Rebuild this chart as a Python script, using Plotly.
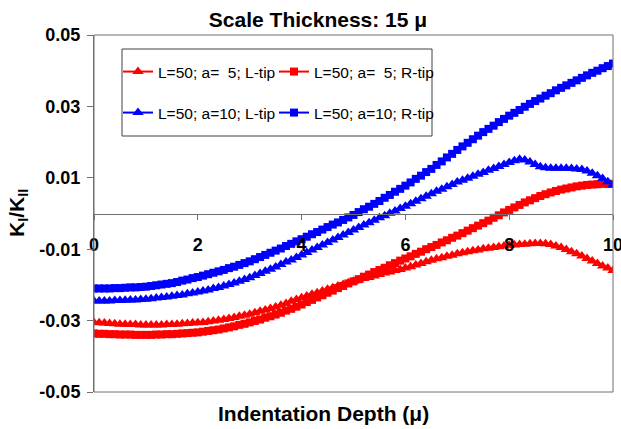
import plotly.graph_objects as go

# Indentation depth grid (micron)
depth = [round(i * 0.1, 1) for i in range(101)]

# L=50; a=5; L-tip  (red triangles)
l50_a5_ltip = [
    -0.0305, -0.0306, -0.0307, -0.0308, -0.0309, -0.0310, -0.0310, -0.0311, -0.0311, -0.0312,
    -0.0312, -0.0312, -0.0312, -0.0312, -0.0311, -0.0311, -0.0310, -0.0309, -0.0308, -0.0307,
    -0.0306, -0.0305, -0.0303, -0.0301, -0.0299, -0.0297, -0.0294, -0.0291, -0.0288, -0.0285,
    -0.0282, -0.0278, -0.0274, -0.0270, -0.0266, -0.0262, -0.0257, -0.0252, -0.0246, -0.0241,
    -0.0236, -0.0231, -0.0226, -0.0222, -0.0217, -0.0212, -0.0208, -0.0203, -0.0199, -0.0194,
    -0.0190, -0.0186, -0.0182, -0.0179, -0.0175, -0.0171, -0.0167, -0.0164, -0.0160, -0.0157,
    -0.0153, -0.0149, -0.0144, -0.0140, -0.0135, -0.0131, -0.0127, -0.0124, -0.0120, -0.0117,
    -0.0113, -0.0110, -0.0107, -0.0104, -0.0102, -0.0099, -0.0097, -0.0095, -0.0093, -0.0091,
    -0.0089, -0.0088, -0.0087, -0.0086, -0.0085, -0.0084, -0.0084, -0.0085, -0.0087, -0.0091,
    -0.0095, -0.0101, -0.0107, -0.0113, -0.0119, -0.0126, -0.0133, -0.0140, -0.0147, -0.0153,
    -0.0160,
]

# L=50; a=5; R-tip  (red squares)
l50_a5_rtip = [
    -0.0336, -0.0337, -0.0337, -0.0338, -0.0338, -0.0339, -0.0339, -0.0339, -0.0340, -0.0340,
    -0.0340, -0.0340, -0.0339, -0.0339, -0.0338, -0.0338, -0.0337, -0.0336, -0.0335, -0.0334,
    -0.0333, -0.0331, -0.0329, -0.0327, -0.0325, -0.0322, -0.0319, -0.0316, -0.0312, -0.0309,
    -0.0305, -0.0301, -0.0297, -0.0292, -0.0288, -0.0283, -0.0278, -0.0272, -0.0267, -0.0261,
    -0.0255, -0.0248, -0.0242, -0.0235, -0.0229, -0.0222, -0.0216, -0.0209, -0.0203, -0.0196,
    -0.0190, -0.0184, -0.0177, -0.0171, -0.0164, -0.0158, -0.0152, -0.0145, -0.0139, -0.0132,
    -0.0126, -0.0120, -0.0113, -0.0107, -0.0100, -0.0094, -0.0088, -0.0081, -0.0075, -0.0068,
    -0.0062, -0.0055, -0.0048, -0.0041, -0.0034, -0.0027, -0.0020, -0.0012, -0.0005, 0.0003,
    0.0010, 0.0017, 0.0024, 0.0031, 0.0037, 0.0043, 0.0049, 0.0054, 0.0059, 0.0063,
    0.0067, 0.0070, 0.0073, 0.0076, 0.0078, 0.0080, 0.0081, 0.0082, 0.0083, 0.0083,
    0.0083,
]

# L=50; a=10; L-tip  (blue triangles)
l50_a10_ltip = [
    -0.0245, -0.0245, -0.0245, -0.0245, -0.0244, -0.0244, -0.0243, -0.0242, -0.0242, -0.0241,
    -0.0240, -0.0239, -0.0237, -0.0235, -0.0234, -0.0232, -0.0230, -0.0228, -0.0225, -0.0223,
    -0.0220, -0.0217, -0.0214, -0.0210, -0.0207, -0.0203, -0.0199, -0.0195, -0.0190, -0.0185,
    -0.0180, -0.0174, -0.0168, -0.0162, -0.0156, -0.0150, -0.0143, -0.0136, -0.0130, -0.0123,
    -0.0116, -0.0109, -0.0102, -0.0095, -0.0088, -0.0081, -0.0074, -0.0067, -0.0060, -0.0053,
    -0.0046, -0.0039, -0.0032, -0.0026, -0.0019, -0.0012, -0.0006, 0.0001, 0.0007, 0.0014,
    0.0020, 0.0027, 0.0034, 0.0041, 0.0048, 0.0055, 0.0062, 0.0068, 0.0075, 0.0081,
    0.0088, 0.0093, 0.0099, 0.0104, 0.0110, 0.0115, 0.0121, 0.0126, 0.0132, 0.0137,
    0.0143, 0.0148, 0.0152, 0.0150, 0.0144, 0.0137, 0.0131, 0.0128, 0.0127, 0.0127,
    0.0127, 0.0127, 0.0126, 0.0125, 0.0123, 0.0119, 0.0113, 0.0106, 0.0098, 0.0089,
    0.0080,
]

# L=50; a=10; R-tip  (blue squares)
l50_a10_rtip = [
    -0.0210, -0.0210, -0.0210, -0.0210, -0.0209, -0.0209, -0.0208, -0.0207, -0.0207, -0.0206,
    -0.0205, -0.0203, -0.0201, -0.0199, -0.0197, -0.0195, -0.0192, -0.0188, -0.0185, -0.0181,
    -0.0178, -0.0174, -0.0170, -0.0166, -0.0162, -0.0158, -0.0153, -0.0149, -0.0144, -0.0139,
    -0.0134, -0.0128, -0.0122, -0.0116, -0.0110, -0.0104, -0.0098, -0.0091, -0.0085, -0.0078,
    -0.0072, -0.0065, -0.0058, -0.0052, -0.0045, -0.0038, -0.0031, -0.0025, -0.0018, -0.0011,
    -0.0004, 0.0004, 0.0012, 0.0019, 0.0027, 0.0035, 0.0044, 0.0052, 0.0061, 0.0069,
    0.0078, 0.0087, 0.0097, 0.0106, 0.0116, 0.0125, 0.0136, 0.0146, 0.0157, 0.0167,
    0.0178, 0.0188, 0.0198, 0.0208, 0.0218, 0.0228, 0.0237, 0.0246, 0.0256, 0.0265,
    0.0274, 0.0282, 0.0290, 0.0299, 0.0307, 0.0315, 0.0322, 0.0330, 0.0337, 0.0345,
    0.0352, 0.0359, 0.0366, 0.0373, 0.0380, 0.0387, 0.0394, 0.0400, 0.0407, 0.0413,
    0.0420,
]

series_names = [
    "L=50; a=\u00a0\u00a05; L-tip",
    "L=50; a=\u00a0\u00a05; R-tip",
    "L=50; a=10; L-tip",
    "L=50; a=10; R-tip",
]
series_values = [l50_a5_ltip, l50_a5_rtip, l50_a10_ltip, l50_a10_rtip]
series_colors = ["#FF0000", "#FF0000", "#0000FF", "#0000FF"]
series_symbols = ["triangle-up", "square", "triangle-up", "square"]
series_sizes = [10, 8, 10, 8]
legend_ids = ["legend", "legend2", "legend3", "legend4"]

y_tickvals = [-0.05, -0.03, -0.01, 0.01, 0.03, 0.05]
y_ticktext = ["-0.05", "-0.03", "-0.01", "0.01", "0.03", "0.05"]
x_tickvals = [0, 2, 4, 6, 8, 10]
x_ticktext = ["0", "2", "4", "6", "8", "10"]

FONT = "Arial, Liberation Sans, sans-serif"
AX = "#707070"

# plot area in px
L, R, T, B = 94, 613, 35, 392
W, H = 621, 429
PW, PH = R - L, B - T


def px2x(px):
    return (px - L) / PW


def py2y(py):
    return 1 - (py - T) / PH


fig = go.Figure()
for name, vals, col, sym, sz, lg in zip(series_names, series_values, series_colors,
                                         series_symbols, series_sizes, legend_ids):
    fig.add_trace(go.Scatter(
        x=depth, y=vals, name=name, mode="lines+markers",
        line=dict(color=col, width=2),
        marker=dict(color=col, symbol=sym, size=sz, line=dict(width=0)),
        legend=lg,
    ))

leg_common = dict(
    font=dict(family=FONT, size=15.5, color="black"),
    bgcolor="rgba(0,0,0,0)", borderwidth=0,
    xanchor="left", yanchor="middle", itemwidth=30,
)
leg_pos = [(118, 72), (274, 72), (118, 113), (274, 113)]
legends = {}
for lg, (lx, ly) in zip(legend_ids, leg_pos):
    legends[lg] = dict(x=px2x(lx), y=py2y(ly), **leg_common)

fig.update_layout(
    width=W, height=H,
    margin=dict(l=L, r=W - R, t=T, b=H - B, autoexpand=False),
    paper_bgcolor="white", plot_bgcolor="white",
    showlegend=True,
    title=dict(text="<b>Scale Thickness: 15 \u03bc</b>", x=px2x(318), xref="paper",
               xanchor="center", y=1 - 20 / H, yref="container", yanchor="middle",
               font=dict(family=FONT, size=21, color="black")),
    xaxis=dict(range=[0, 10], tickvals=x_tickvals, ticktext=x_ticktext,
               anchor="free", position=0.5, side="bottom",
               showline=True, linecolor=AX, linewidth=1,
               ticks="outside", ticklen=5, tickcolor=AX, tickwidth=1,
               ticklabelstandoff=10, ticklabeloverflow="allow",
               showgrid=False, zeroline=False,
               tickfont=dict(family=FONT, size=18, color="black", weight="bold")),
    yaxis=dict(range=[-0.05, 0.05], tickvals=y_tickvals, ticktext=y_ticktext,
               showline=True, linecolor=AX, linewidth=1,
               ticks="outside", ticklen=6, tickcolor=AX, tickwidth=1,
               ticklabelstandoff=3,
               showgrid=False, zeroline=False,
               tickfont=dict(family=FONT, size=18, color="black", weight="bold")),
    shapes=[
        dict(type="rect", xref="paper", yref="paper", x0=0, x1=1, y0=0, y1=1,
             line=dict(color=AX, width=1), fillcolor="rgba(0,0,0,0)"),
        dict(type="rect", xref="paper", yref="paper",
             x0=px2x(122), x1=px2x(432), y0=py2y(136), y1=py2y(49),
             line=dict(color="#404040", width=1), fillcolor="rgba(0,0,0,0)"),
    ],
    annotations=[
        dict(text="<b>Indentation Depth (\u03bc)</b>", xref="paper", yref="paper",
             x=px2x(323), y=py2y(413), xanchor="center", yanchor="middle",
             showarrow=False, font=dict(family=FONT, size=21, color="black")),
        dict(text="<b>K<sub>I</sub>/K<sub>II</sub></b>", xref="paper", yref="paper",
             x=px2x(18), y=py2y(213), xanchor="center", yanchor="middle",
             textangle=-90, showarrow=False,
             font=dict(family=FONT, size=21, color="black")),
    ],
    **legends,
)

fig.write_html("out.html")
